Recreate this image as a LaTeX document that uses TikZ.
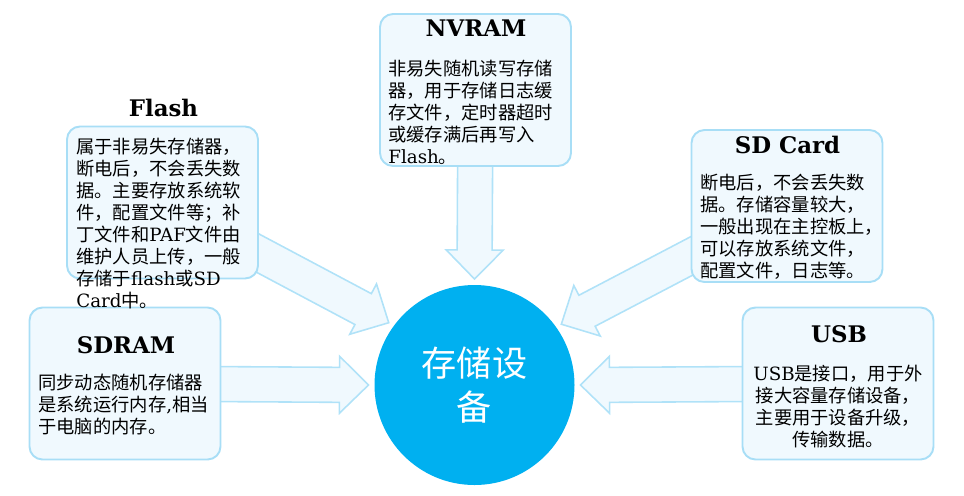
\documentclass[tikz,border=0pt]{standalone}
\usepackage{fontspec}
\setmainfont{DejaVu Serif}
\newfontfamily\zhfont{Noto Sans CJK SC}
\newcommand{\en}[1]{{\rmfamily #1}}
\usetikzlibrary{calc, backgrounds}
\definecolor{hubblue}{RGB}{0, 176, 240}
\definecolor{boxline}{RGB}{168, 222, 246}
\definecolor{boxfill}{RGB}{240, 249, 254}
\definecolor{arrline}{RGB}{176, 226, 248}

\begin{document}
\begin{tikzpicture}[
  x=0.2mm, y=-0.2mm,
  every node/.style={inner sep=0pt},
  memory/.style={rectangle, rounded corners=2.6mm, draw=boxline, fill=boxfill,
                 line width=1.1pt, minimum width=38.2mm, minimum height=30.4mm},
  title/.style={font=\rmfamily\bfseries\fontsize{13}{15}\selectfont, anchor=base},
  body/.style={font=\zhfont\fontsize{10.4}{12.5}\selectfont, align=left,
               anchor=north west},
  hubstyle/.style={circle, fill=hubblue, minimum size=40mm, outer sep=1.2mm,
                   text=white, align=center,
                   font=\zhfont\fontsize{20}{25}\selectfont},
  blockarrow/.style={draw=arrline, fill=boxfill, line width=0.9pt,
    line join=miter,
    to path={
      ($(\tikztostart)!3.5mm!90:(\tikztotarget)$)
      -- ($($(\tikztotarget)!5.8mm!(\tikztostart)$)!3.5mm!-90:(\tikztostart)$)
      -- ($($(\tikztotarget)!5.8mm!(\tikztostart)$)!5.7mm!-90:(\tikztostart)$)
      -- (\tikztotarget)
      -- ($($(\tikztotarget)!5.8mm!(\tikztostart)$)!5.7mm!90:(\tikztostart)$)
      -- ($($(\tikztotarget)!5.8mm!(\tikztostart)$)!3.5mm!90:(\tikztostart)$)
      -- ($(\tikztostart)!3.5mm!-90:(\tikztotarget)$)
      -- cycle}}
]
\useasboundingbox (0,0) rectangle (964,495);

% Hub
\node[hubstyle] (hub) at (474.5,385) {存储设\\备};

% Memory boxes
\node[memory] (flash)  at (162.5,202.5) {};
\node[memory] (nvram)  at (475.5,90)    {};
\node[memory] (sdcard) at (787,206)     {};
\node[memory] (sdram)  at (125,383.5)   {};
\node[memory] (usb)    at (838,383.5)   {};

% Block arrows into the hub
\begin{scope}[on background layer]
  \draw[blockarrow] (flash)  to (hub.144);
  \draw[blockarrow] (nvram)  to (hub.north);
  \draw[blockarrow] (sdcard) to (hub.35);
  \draw[blockarrow] (sdram)  to (hub.west);
  \draw[blockarrow] (usb)    to (hub.east);
\end{scope}

% Titles
\node[title] (flash-title)  at (163.5,116.7) {Flash};
\node[title] (nvram-title)  at (476,36.7)    {NVRAM};
\node[title] (sdcard-title) at (787.5,153)   {SD Card};
\node[title] (sdram-title)  at (126,353)     {SDRAM};
\node[title] (usb-title)    at (839,342)     {USB};

% Texts
\node[body] (flash-text) at (76,138) {属于非易失存储器，\\
  断电后，不会丢失数\\ 据。主要存放系统软\\ 件，配置文件等；补\\
  丁文件和\en{PAF}文件由\\ 维护人员上传，一般\\ 存储于\en{flash}或\en{SD}\\
  \en{Card}中。};
\node[body] (nvram-text) at (388,60) {非易失随机读写存储\\
  器，用于存储日志缓\\ 存文件，定时器超时\\ 或缓存满后再写入\\ \en{Flash}。};
\node[body] (sdcard-text) at (700,174) {断电后，不会丢失数\\
  据。存储容量较大，\\ 一般出现在主控板上，\\ 可以存放系统文件，\\
  配置文件，日志等。};
\node[body] (sdram-text) at (38,374) {同步动态随机存储器\\
  是系统运行内存\en{,}相当\\ 于电脑的内存。};
\node[body, align=center, anchor=north] (usb-text) at (838,365)
  {\en{USB}是接口，用于外\\ 接大容量存储设备，\\ 主要用于设备升级，\\ 传输数据。};

\end{tikzpicture}
\end{document}
